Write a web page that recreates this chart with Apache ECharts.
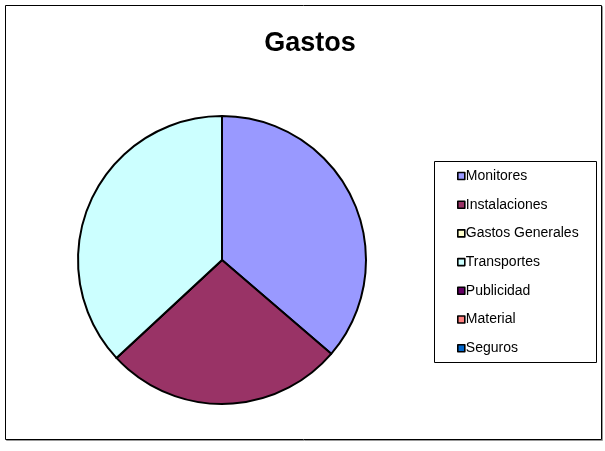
<!DOCTYPE html>
<html>
<head>
<meta charset="utf-8">
<script src="https://cdn.jsdelivr.net/npm/echarts@6/dist/echarts.min.js"></script>
<style>html,body{margin:0;padding:0;background:#fff}#c{width:605px;height:451px}</style>
</head>
<body>
<div id="c"></div>
<script>
var titleText = 'Gastos';
var categories = ['Monitores', 'Instalaciones', 'Gastos Generales', 'Transportes', 'Publicidad', 'Material', 'Seguros'];
var values = [36.3, 26.8, 0, 36.9, 0, 0, 0];
var colors = ['#9999FF', '#993366', '#FFFFCC', '#CCFFFF', '#660066', '#FF8080', '#0066CC'];

var chart = echarts.init(document.getElementById('c'), null, {renderer: 'canvas'});
var data = categories.map(function (n, i) {
  return {name: n, value: values[i], itemStyle: {color: colors[i]}};
});
chart.setOption({
  animation: false,
  backgroundColor: '#fff',
  graphic: [
    {type: 'rect', shape: {x: 6.5, y: 6.5, width: 596, height: 434}, style: {fill: 'none', stroke: '#999', lineWidth: 1}, z: -2},
    {type: 'rect', shape: {x: 5.5, y: 5.5, width: 596, height: 434}, style: {fill: '#fff', stroke: '#000', lineWidth: 1}, z: -1},
    {type: 'rect', shape: {x: 434.5, y: 161.5, width: 162, height: 201}, style: {fill: '#fff', stroke: '#000', lineWidth: 1}, z: 0},
    {type: 'text', x: 310, y: 44, style: {text: titleText, fontFamily: 'Liberation Sans, Arial, sans-serif', fontWeight: 'bold', fontSize: 27, fill: '#000', textAlign: 'center', textVerticalAlign: 'middle'}, z: 5}
  ],
  legend: {
    orient: 'vertical',
    left: 457,
    top: 169,
    padding: 0,
    icon: 'rect',
    itemWidth: 7,
    itemHeight: 7,
    itemGap: 14.7,
    itemStyle: {borderColor: '#000', borderWidth: 1.6},
    textStyle: {fontFamily: 'Liberation Sans, Arial, sans-serif', fontSize: 14, lineHeight: 14, color: '#000', padding: [0, 0, 0, -4]},
    data: categories,
    z: 10
  },
  series: [{
    type: 'pie',
    center: [222, 260],
    radius: 144,
    startAngle: 90,
    clockwise: true,
    avoidLabelOverlap: false,
    label: {show: false},
    labelLine: {show: false},
    emphasis: {disabled: true},
    itemStyle: {borderColor: '#000', borderWidth: 2},
    data: data,
    z: 5
  }]
});
</script>
</body>
</html>
